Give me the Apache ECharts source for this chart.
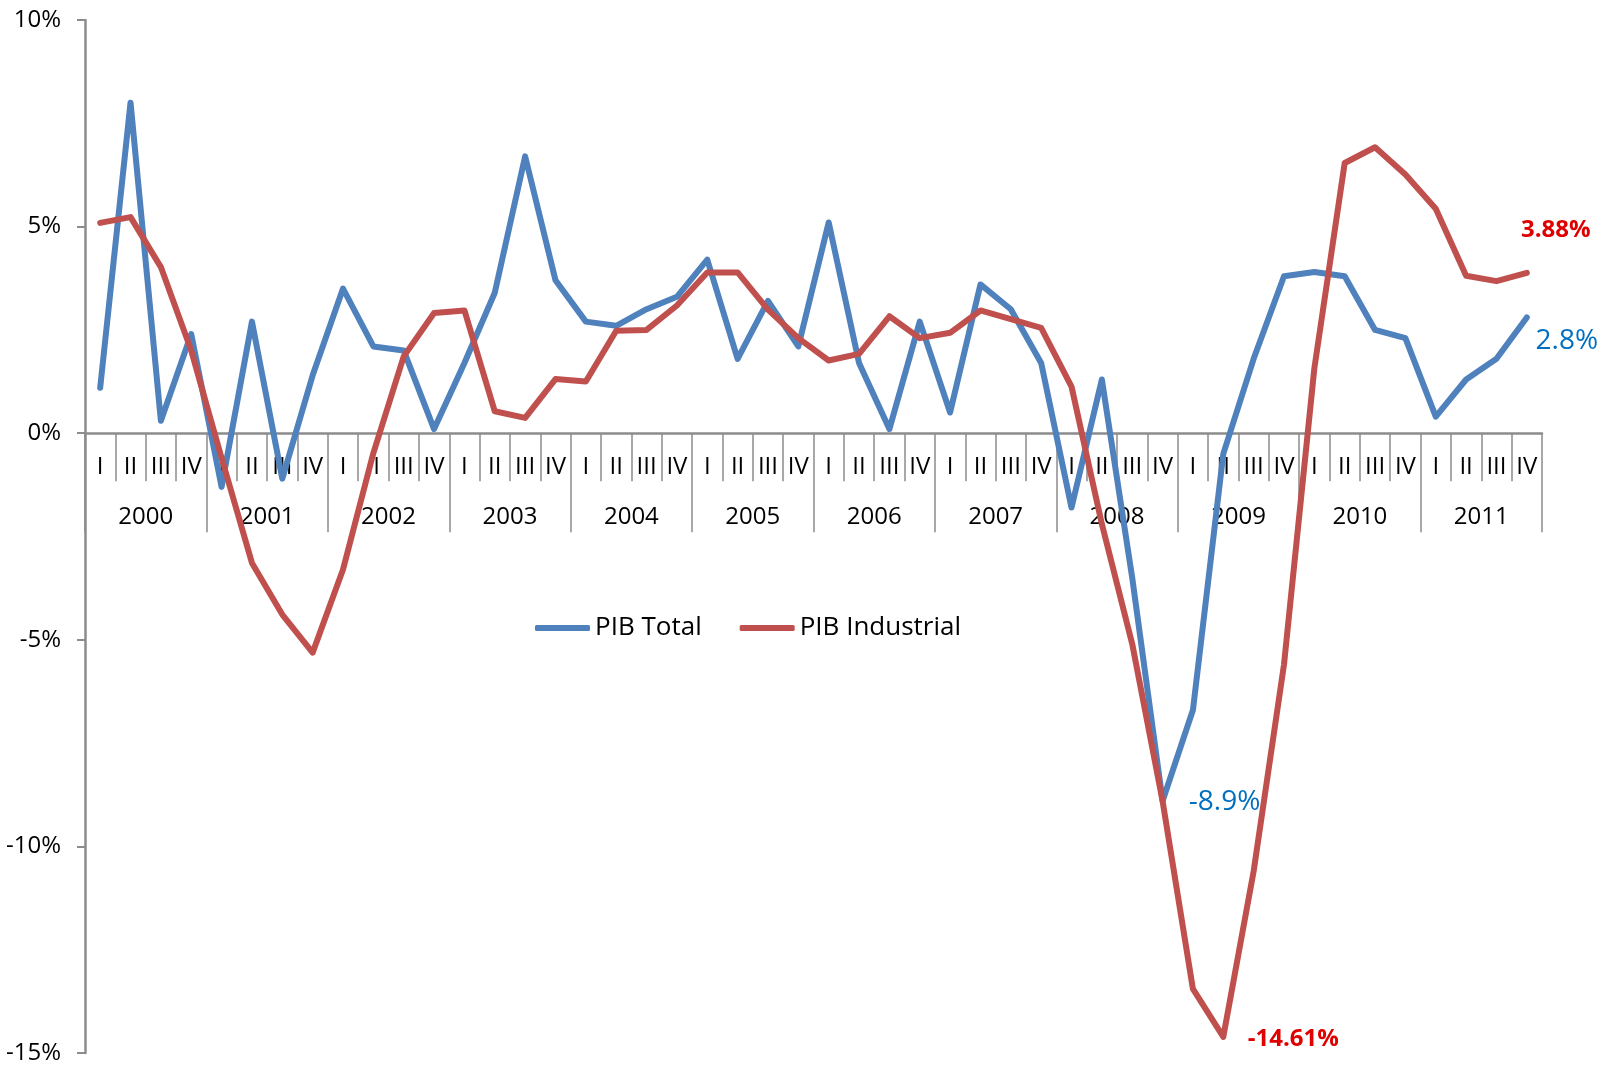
<!DOCTYPE html>
<html>
<head>
<meta charset="utf-8">
<title>PIB Total y PIB Industrial</title>
<script src="https://cdn.jsdelivr.net/npm/echarts@6/dist/echarts.min.js"></script>
<style>
  html, body { margin: 0; padding: 0; background: #fff; }
  #chart { width: 1606px; height: 1066px; }
</style>
</head>
<body>
<div id="chart"></div>
<script>
  // eje X: años y trimestres
  var years = ['2000', '2001', '2002', '2003', '2004', '2005', '2006', '2007', '2008', '2009', '2010', '2011'];
  var quarterNames = ['I', 'II', 'III', 'IV'];
  var yTicks = { min: -15, max: 10, step: 5 };

  // variación anual (%) por trimestre, 2000 I .. 2011 IV
  var pibTotal = [
    1.1, 8.0, 0.3, 2.4,
    -1.3, 2.7, -1.1, 1.4,
    3.5, 2.1, 2.0, 0.1,
    1.7, 3.4, 6.7, 3.7,
    2.7, 2.6, 3.0, 3.3,
    4.2, 1.8, 3.2, 2.1,
    5.1, 1.7, 0.1, 2.7,
    0.5, 3.6, 3.0, 1.7,
    -1.8, 1.3, -3.5, -8.9,
    -6.7, -0.5, 1.8, 3.8,
    3.9, 3.8, 2.5, 2.3,
    0.4, 1.3, 1.8, 2.8
  ];
  var pibIndustrial = [
    5.09, 5.23, 4.02, 2.0,
    -0.6, -3.14, -4.39, -5.31,
    -3.3, -0.48, 1.86, 2.91,
    2.97, 0.53, 0.37, 1.31,
    1.25, 2.48, 2.5, 3.09,
    3.89, 3.89, 2.99, 2.3,
    1.76, 1.92, 2.83, 2.3,
    2.43, 2.97, 2.76, 2.55,
    1.13, -2.2, -5.1, -8.9,
    -13.45, -14.61, -10.6, -5.6,
    1.57, 6.54, 6.92, 6.26,
    5.43, 3.81, 3.68, 3.88
  ];

  // puntos anotados: [serie, índice, texto]
  var notes = [
    ['total', 35, '-8.9%'],
    ['total', 47, '2.8%'],
    ['industrial', 37, '-14.61%'],
    ['industrial', 47, '3.88%']
  ];

  var categories = [];
  years.forEach(function (y) {
    quarterNames.forEach(function (q) { categories.push(y + ' ' + q); });
  });

  var FONT = '"Open Sans", "DejaVu Sans", sans-serif';
  var AXIS_GRAY = '#8c8c8c';
  var GRID = { left: 85, right: 64, top: 20, bottom: 13 };
  var PLOT_H = 1066 - GRID.top - GRID.bottom;
  // el eje de categorías cruza en 0%: se sube desde el borde inferior
  var zeroOffset = -PLOT_H * (0 - yTicks.min) / (yTicks.max - yTicks.min);

  function notePoints(key, values, style) {
    return notes.filter(function (n) { return n[0] === key; }).map(function (n) {
      var s = style[n[1]] || {};
      return {
        coord: [n[1], values[n[1]]],
        label: {
          show: true,
          position: 'inside',
          offset: s.offset,
          formatter: n[2],
          color: s.color,
          fontSize: s.fontSize,
          fontWeight: s.fontWeight,
          fontFamily: FONT
        }
      };
    });
  }

  var myChart = echarts.init(document.getElementById('chart'));
  var option = {
    animation: false,
    backgroundColor: '#ffffff',
    grid: {
      left: GRID.left, right: GRID.right, top: GRID.top, bottom: GRID.bottom,
      containLabel: false,
      outerBoundsMode: 'none'
    },
    legend: {
      left: 530,
      top: 610,
      icon: 'roundRect',
      itemWidth: 55,
      itemHeight: 6,
      itemGap: 38,
      textStyle: { color: '#000', fontSize: 26, fontFamily: FONT },
      data: ['PIB Total', 'PIB Industrial']
    },
    xAxis: [{
      type: 'category',
      position: 'bottom',
      offset: zeroOffset,
      data: categories,
      boundaryGap: true,
      axisLine: { onZero: false, lineStyle: { color: AXIS_GRAY, width: 2.5 } },
      axisTick: { show: true, interval: 0, length: 48, lineStyle: { color: AXIS_GRAY, width: 1.5 } },
      axisLabel: {
        interval: 0,
        margin: 22,
        color: '#000',
        fontSize: 24,
        fontFamily: FONT,
        formatter: function (v) { return v.split(' ')[1]; }
      },
      splitLine: { show: false }
    }, {
      type: 'category',
      position: 'bottom',
      offset: zeroOffset,
      data: years,
      boundaryGap: true,
      axisLine: { show: false, onZero: false },
      axisTick: { show: true, interval: 0, length: 99, lineStyle: { color: AXIS_GRAY, width: 1.5 } },
      axisLabel: { interval: 0, margin: 72, color: '#000', fontSize: 24, fontFamily: FONT },
      splitLine: { show: false }
    }],
    yAxis: {
      type: 'value',
      min: yTicks.min,
      max: yTicks.max,
      interval: yTicks.step,
      axisLine: { show: true, onZero: false, lineStyle: { color: AXIS_GRAY, width: 2.5 } },
      axisTick: { show: true, length: 8, lineStyle: { color: AXIS_GRAY, width: 2 } },
      axisLabel: { margin: 24, color: '#000', fontSize: 24, fontFamily: FONT, formatter: '{value}%' },
      splitLine: { show: false }
    },
    series: [{
      name: 'PIB Total',
      type: 'line',
      xAxisIndex: 0,
      data: pibTotal,
      symbol: 'none',
      color: '#4F81BD',
      lineStyle: { width: 6, color: '#4F81BD', cap: 'round', join: 'round' },
      markPoint: {
        symbol: 'circle',
        symbolSize: 1,
        itemStyle: { color: 'rgba(0,0,0,0)' },
        data: notePoints('total', pibTotal, {
          35: { offset: [62, 1], color: '#0070C0', fontSize: 28, fontWeight: 'normal' },
          47: { offset: [40, 24], color: '#0070C0', fontSize: 28, fontWeight: 'normal' }
        })
      }
    }, {
      name: 'PIB Industrial',
      type: 'line',
      xAxisIndex: 0,
      data: pibIndustrial,
      symbol: 'none',
      color: '#C0504D',
      lineStyle: { width: 6, color: '#C0504D', cap: 'round', join: 'round' },
      markPoint: {
        symbol: 'circle',
        symbolSize: 1,
        itemStyle: { color: 'rgba(0,0,0,0)' },
        data: notePoints('industrial', pibIndustrial, {
          37: { offset: [70, 2], color: '#E00000', fontSize: 24, fontWeight: 'bold' },
          47: { offset: [29, -43], color: '#E00000', fontSize: 24, fontWeight: 'bold' }
        })
      }
    }]
  };
  myChart.setOption(option);
</script>
</body>
</html>
